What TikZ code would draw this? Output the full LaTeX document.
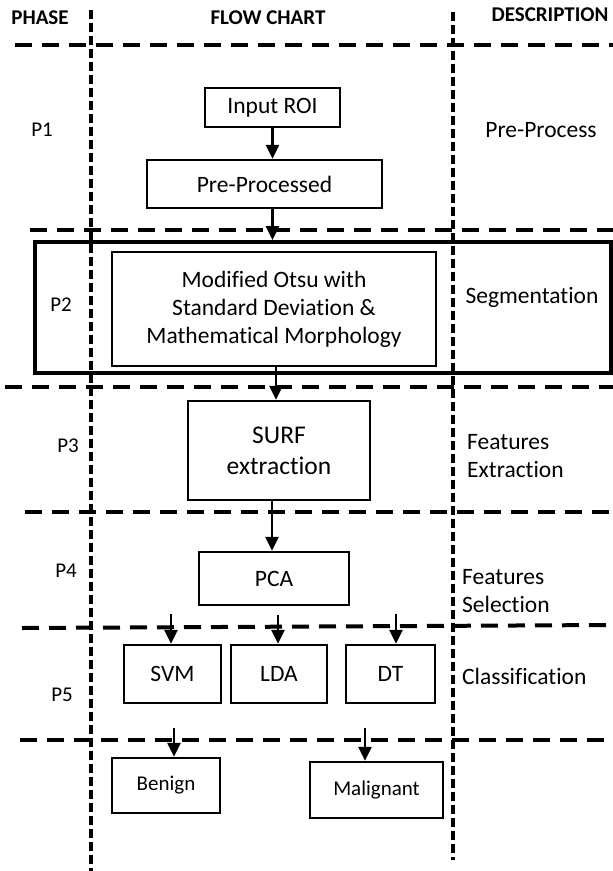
\documentclass[tikz,border=0pt]{standalone}
\usepackage{fontspec}
\setmainfont{Carlito}[Ligatures=CommonOff]
\usetikzlibrary{arrows.meta,calc}
\begin{document}
\begin{tikzpicture}[x=1pt,y=-1pt,
  txt/.style={font=\fontsize{23.5}{28}\selectfont, inner sep=0pt},
  smalltxt/.style={font=\fontsize{21}{25}\selectfont, inner sep=0pt},
  head/.style={font=\fontsize{21}{25}\selectfont\bfseries, inner sep=0pt},
  boxx/.style={draw, line width=2.4pt, inner sep=0pt, align=center},
  hdash/.style={line width=4pt, dash pattern=on 17pt off 10pt},
  vdash/.style={line width=3.5pt, dash pattern=on 9pt off 4pt},
  arr/.style={line width=2.6pt, -{Triangle[width=13pt,length=14pt]}}]
\useasboundingbox (0,0) rectangle (613,871);

% grid lines
\draw[vdash] (91,10) -- (91,871);
\draw[vdash] (453,12) -- (453,860);
\draw[hdash] (15,45) -- (613,45);
\draw[hdash] (30,230) -- (613,230);
\draw[hdash] (5,387) -- (613,387);
\draw[hdash] (25,512) -- (613,512);
\draw[hdash] (22,628) -- (613,625);
\draw[hdash] (20,740) -- (613,740);

% headers
\node[head] (hphase) at (40,18) {PHASE};
\node[head] (hflow) at (268,18) {FLOW CHART};
\node[head] (hdesc) at (550,15) {DESCRIPTION};

% phases
\node[smalltxt] (p1) at (42,130) {P1};
\node[smalltxt] (p2) at (61,305) {P2};
\node[smalltxt] (p3) at (68,446) {P3};
\node[smalltxt] (p4) at (66,571) {P4};
\node[smalltxt] (p5) at (62,695) {P5};

% descriptions
\node[txt] (d1) at (541,130) {Pre-Process};
\node[txt] (d2) at (532,297) {Segmentation};
\node[txt, anchor=west, align=left] (d3) at (467,456) {Features\\Extraction};
\node[txt, anchor=west, align=left] (d4) at (462,591) {Features\\Selection};
\node[txt, anchor=west] (d5) at (462,676) {Classification};

% boxes
\node[boxx, txt, minimum width=135pt, minimum height=39pt] (inroi) at (272.5,107.5) {Input ROI};
\node[boxx, txt, minimum width=235pt, minimum height=48pt] (pre) at (264.5,184) {Pre-Processed};
\node[draw, line width=4pt, minimum width=576pt, minimum height=131pt, inner sep=0pt] (outer) at (323,307.5) {};
\node[boxx, txt, minimum width=324pt, minimum height=114pt] (inner) at (274,309) {Modified Otsu with\\Standard Deviation \&\\Mathematical Morphology};
\node[boxx, font=\fontsize{25.5}{31}\selectfont, minimum width=182pt, minimum height=99pt] (surf) at (279,450.5) {SURF\\extraction};
\node[boxx, txt, minimum width=150pt, minimum height=53pt] (pca) at (274,578.5) {PCA};
\node[boxx, txt, minimum width=97pt, minimum height=58pt] (svm) at (172.5,674) {SVM};
\node[boxx, txt, minimum width=96pt, minimum height=58pt] (lda) at (279,674) {LDA};
\node[boxx, txt, minimum width=89pt, minimum height=58pt] (dt) at (390.5,674) {DT};
\node[boxx, smalltxt, minimum width=108pt, minimum height=55pt] (benign) at (166,785.5) {Benign};
\node[boxx, smalltxt, minimum width=133pt, minimum height=56pt] (malig) at (376.5,790) {Malignant};

% free-end coordinates
\coordinate (csvm) at (171,614);
\coordinate (clda) at (278,615);
\coordinate (cdt) at (396,614);
\coordinate (cben) at (174,728);
\coordinate (cmal) at (365,728);

% connectors
\draw[arr] (inroi.south) -- (inroi.south |- pre.north);
\draw[arr] (pre.south -| inroi.south) -- (outer.north -| inroi.south);
\draw[arr] (inner.south -| 276,0) -- (surf.north -| 276,0);
\draw[arr] (pca.north -| 272,0) ++(0,-52) -- (pca.north -| 272,0);
\draw[arr] (csvm) -- (csvm |- svm.north);
\draw[arr] (clda) -- (clda |- lda.north);
\draw[arr] (cdt) -- (cdt |- dt.north);
\draw[arr] (cben) -- (cben |- benign.north);
\draw[arr] (cmal) -- (cmal |- malig.north);
\end{tikzpicture}
\end{document}
